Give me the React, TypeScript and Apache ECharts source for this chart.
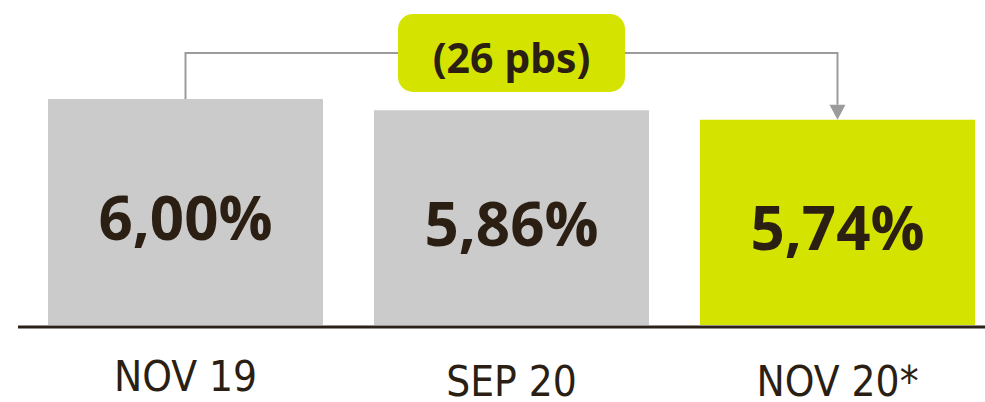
import React, { useEffect, useRef } from "react";
import * as echarts from "echarts";

const categories = ["NOV 19", "SEP 20", "NOV 20*"];
const values = [6.0, 5.86, 5.74];
const barColors = ["#cbcbcb", "#cbcbcb", "#d4e400"];
const labelDrop = [0, 5, 5];
const changeLabel = "(26 pbs)";

const TEXT = "#2b1e12";
const LINE = "#9b9b9b";

export default function App() {
  const ref = useRef<HTMLDivElement>(null);
  useEffect(() => {
    document.body.style.margin = "0";
    document.body.style.overflow = "hidden";
    document.documentElement.style.overflow = "hidden";
    if (!ref.current) return;
    const chart = echarts.init(ref.current, undefined, { renderer: "svg" });
    chart.setOption({
      animation: false,
      grid: { left: 22.5, top: 0, width: 978, height: 330 },
      xAxis: {
        type: "category",
        data: categories.map((c, i) => ({
          value: c,
          textStyle: { padding: [labelDrop[i], 0, 0, 0] },
        })),
        axisLine: { show: false },
        axisTick: { show: false },
        axisLabel: {
          margin: 36,
          fontSize: 42,
          lineHeight: 30,
          fontFamily: "'DejaVu Sans Condensed', 'Liberation Sans Narrow', sans-serif",
          color: TEXT,
        },
      },
      yAxis: { type: "value", min: 3.15, max: 7.25, show: false, splitLine: { show: false } },
      series: [
        {
          type: "bar",
          barWidth: 275,
          data: values.map((v, i) => ({ value: v, itemStyle: { color: barColors[i] } })),
          label: {
            show: true,
            position: "inside",
            offset: [0, 5],
            fontSize: 60,
            fontWeight: "bold",
            fontFamily: "'Open Sans', sans-serif",
            color: TEXT,
            formatter: (p: any) => p.value.toFixed(2).replace(".", ",") + "%",
          },
        },
      ],
    });

    const p1 = chart.convertToPixel({ seriesIndex: 0 }, [0, values[0]]) as number[];
    const p2 = chart.convertToPixel({ seriesIndex: 0 }, [1, values[1]]) as number[];
    const p3 = chart.convertToPixel({ seriesIndex: 0 }, [2, values[2]]) as number[];
    const base = chart.convertToPixel({ seriesIndex: 0 }, [0, 3.15]) as number[];
    const by = 53;
    const boxW = 227;
    const boxH = 78;
    const boxL = p2[0] - boxW / 2;
    const boxR = p2[0] + boxW / 2;
    const arrowH = 15;

    chart.setOption({
      graphic: [
        {
          type: "line",
          shape: { x1: 18, y1: base[1] + 2, x2: 985, y2: base[1] + 2 },
          style: { stroke: "#2b2118", lineWidth: 3 },
        },
        {
          type: "polyline",
          shape: { points: [[p1[0], p1[1]], [p1[0], by], [boxL, by]] },
          style: { stroke: LINE, lineWidth: 2, fill: null },
        },
        {
          type: "polyline",
          shape: { points: [[boxR, by], [p3[0], by], [p3[0], p3[1] - arrowH]] },
          style: { stroke: LINE, lineWidth: 2, fill: null },
        },
        {
          type: "polygon",
          shape: {
            points: [
              [p3[0] - 8, p3[1] - arrowH],
              [p3[0] + 8, p3[1] - arrowH],
              [p3[0], p3[1]],
            ],
          },
          style: { fill: LINE },
        },
        {
          type: "rect",
          shape: { x: boxL, y: by - boxH / 2, width: boxW, height: boxH, r: 15 },
          style: { fill: "#d4e400" },
        },
        {
          type: "text",
          x: p2[0],
          y: by + 4,
          style: {
            text: changeLabel,
            fontSize: 41,
            fontWeight: "bold",
            fontFamily: "'Open Sans', sans-serif",
            fill: TEXT,
            align: "center",
            verticalAlign: "middle",
          },
        },
      ],
    });
    return () => chart.dispose();
  }, []);
  return <div ref={ref} style={{ width: 1001, height: 402 }} />;
}
